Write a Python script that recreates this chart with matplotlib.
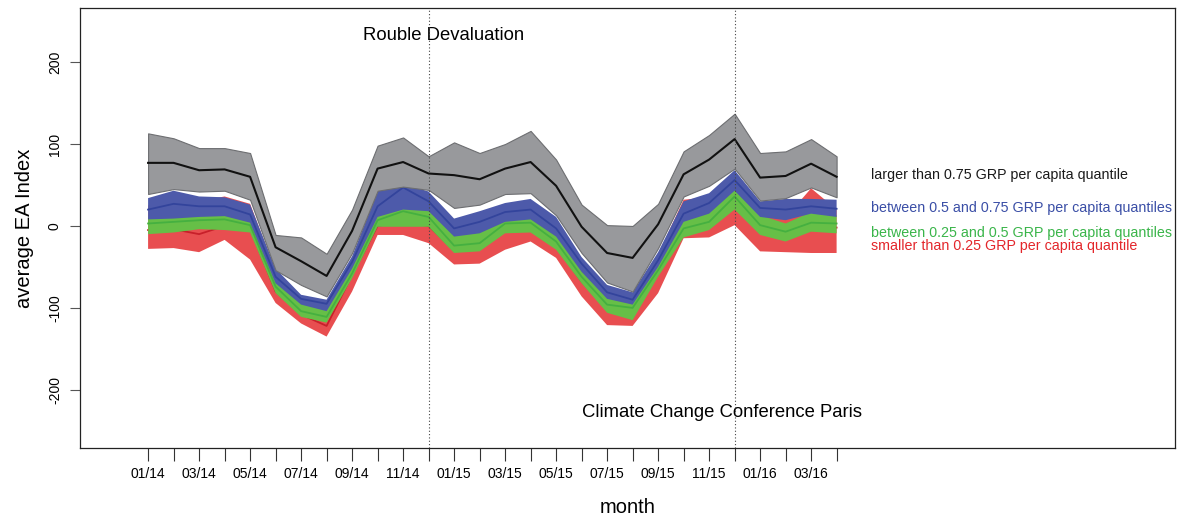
import matplotlib
matplotlib.use("Agg")
import matplotlib.pyplot as plt
import numpy as np

plt.rcParams['font.family'] = ['Liberation Sans', 'DejaVu Sans']

# months 01/14 .. 04/16
months = ['01/14', '02/14', '03/14', '04/14', '05/14', '06/14', '07/14', '08/14',
          '09/14', '10/14', '11/14', '12/14', '01/15', '02/15', '03/15', '04/15',
          '05/15', '06/15', '07/15', '08/15', '09/15', '10/15', '11/15', '12/15',
          '01/16', '02/16', '03/16', '04/16']

# larger than 0.75 quantile
q4_up = [113, 107, 95, 95, 89, -11, -14, -34, 20, 98, 108, 85, 102, 89, 100, 116,
         81, 26, 1, 0, 27, 91, 111, 137, 89, 91, 106, 85]
q4_mean = [77, 77, 68, 69, 60, -26, -43, -61, -6, 70, 78, 64, 62, 57, 70, 78,
           49, -1, -33, -39, 2, 63, 81, 106, 59, 61, 76, 60]
q4_lo = [39, 45, 42, 43, 32, -54, -72, -86, -33, 43, 48, 44, 22, 26, 39, 40,
         13, -33, -69, -80, -27, 36, 49, 70, 31, 34, 47, 35]

# between 0.5 and 0.75
q3_up = [34, 43, 36, 35, 26, -52, -84, -90, -37, 42, 52, 42, 9, 18, 28, 33,
         11, -38, -72, -81, -32, 30, 40, 68, 30, 33, 33, 32]
q3_mean = [20, 27, 24, 24, 14, -62, -89, -95, -44, 24, 47, 30, -3, 5, 17, 20,
           -3, -46, -81, -90, -42, 15, 28, 56, 22, 20, 24, 21]
q3_lo = [8, 9, 11, 12, 4, -70, -96, -104, -52, 11, 20, 18, -13, -9, 5, 8,
         -13, -56, -89, -96, -50, 5, 15, 43, 11, 7, 15, 11]

# between 0.25 and 0.5
q2_up = [11, 12, 14, 15, 7, -68, -94, -102, -50, 13, 22, 19, -11, -7, 7, 10,
         -11, -54, -87, -94, -48, 7, 17, 45, 13, 3, 17, 13]
q2_mean = [3, 5, 7, 8, 1, -74, -104, -111, -58, 7, 18, 11, -24, -21, 3, 4,
           -19, -62, -96, -100, -54, -3, 5, 36, 1, -7, 4, 3]
q2_lo = [-10, -8, -4, -5, -8, -82, -111, -118, -64, -1, -1, -1, -33, -31, -9, -8,
         -29, -70, -106, -115, -62, -14, -5, 20, -11, -19, -7, -9]

# smaller than 0.25
q1_up = [25, 30, 30, 36, 27, -55, -86, -95, -40, 44, 40, 35, 0, 5, 15, 20,
         -5, -45, -78, -85, -35, 32, 35, 55, 20, 10, 46, 20]
q1_mean = [-5, -4, -10, 0, -3, -80, -108, -122, -60, 0, 5, 0, -30, -28, -5, -2,
           -25, -68, -102, -108, -58, -5, -2, 25, -5, -12, 0, -2]
q1_lo = [-28, -27, -32, -17, -41, -94, -119, -135, -80, -11, -11, -21, -47, -46, -29, -19,
         -39, -86, -121, -122, -82, -15, -14, 1, -31, -32, -33, -33]

legend_txt = ['larger than 0.75 GRP per capita quantile',
              'between 0.5 and 0.75 GRP per capita quantiles',
              'between 0.25 and 0.5 GRP per capita quantiles',
              'smaller than 0.25 GRP per capita quantile']
legend_y = [62, 22, -8.5, -24.5]

x = np.arange(len(months))

fig = plt.figure(figsize=(11.83, 5.24), dpi=100)
ax = fig.add_axes([80 / 1183, 76 / 524, 1095 / 1183, 440 / 524])

# bands, bottom group first so the upper groups sit on top
groups = [
    (q1_lo, q1_mean, q1_up, '#e84e50', '#c8202a', 'none', 1.3),
    (q2_lo, q2_mean, q2_up, '#66bf47', '#45b040', 'none', 1.3),
    (q3_lo, q3_mean, q3_up, '#4d5aaa', '#33449c', 'none', 1.3),
    (q4_lo, q4_mean, q4_up, '#98999c', '#111111', '#6d6e71', 1.5),
]
for k, (lo, mean, up, fc, lc, ec, lw) in enumerate(groups):
    ax.fill_between(x, lo, up, facecolor=fc, edgecolor=ec, lw=0.8, zorder=2 + 2 * k)
    ax.plot(x, mean, color=lc, lw=lw, zorder=3 + 2 * k)

# events
for ev in [11, 23]:
    ax.axvline(ev, color='#444444', ls=(0, (1, 2)), lw=0.8, zorder=12)
ax.text(11.6, 232, 'Rouble Devaluation', ha='center', va='center', fontsize=13.3)
ax.text(22.5, -228, 'Climate Change Conference Paris', ha='center', va='center', fontsize=13.3)

colors = ['#1a1a1a', '#3a4ea6', '#3ab54a', '#e3262b']
for t, yy, c in zip(legend_txt, legend_y, colors):
    ax.text(28.35, yy, t, color=c, fontsize=10.3, ha='left', va='center')

ax.set_xlim(-2.67, 40.27)
ax.set_ylim(-271, 266)

ax.set_xticks(x)
ax.set_xticklabels([m if i % 2 == 0 else '' for i, m in enumerate(months)], fontsize=10)
ax.set_yticks([-200, -100, 0, 100, 200])
ax.set_yticklabels(['-200', '-100', '0', '100', '200'], fontsize=10, rotation=90, va='center')
ax.tick_params(axis='x', length=9, width=0.8, pad=5, color='#333333')
ax.tick_params(axis='y', length=7, width=0.8, pad=6, color='#555555')

ax.set_xlabel('month', fontsize=14.5, labelpad=12)
ax.set_ylabel('average EA Index', fontsize=14.5, labelpad=10)

for s in ax.spines.values():
    s.set_linewidth(0.9)
    s.set_color('#222222')

fig.savefig('out.png', dpi=100)
